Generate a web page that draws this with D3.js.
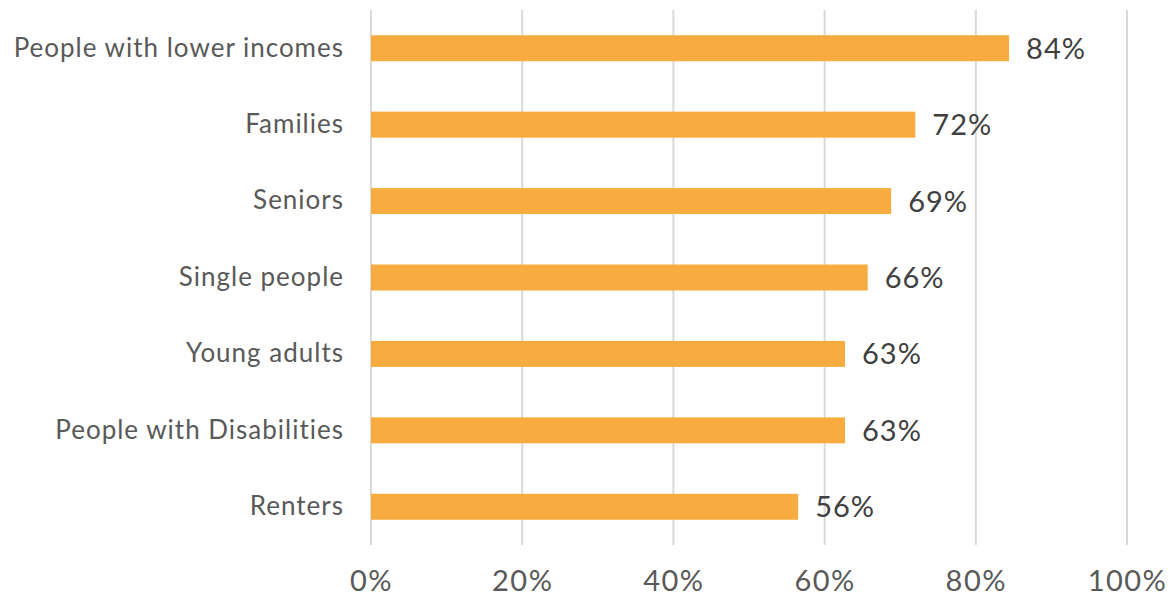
<!DOCTYPE html>
<html>
<head>
<meta charset="utf-8">
<script src="https://cdn.jsdelivr.net/npm/d3@7"></script>
<style>
  body { margin: 0; background: #fff; }
  text { font-family: Lato, "Open Sans", sans-serif; }
</style>
</head>
<body>
<svg id="chart"></svg>
<script>
// data
var categories = ["People with lower incomes", "Families", "Seniors", "Single people",
                  "Young adults", "People with Disabilities", "Renters"];
var values = [0.844, 0.72, 0.688, 0.657, 0.627, 0.627, 0.565];
var ticks = [0, 0.2, 0.4, 0.6, 0.8, 1.0];

var svg = d3.select("#chart"),
    W = 1175, H = 597,
    margin = { top: 10, right: 48, bottom: 52, left: 371 },
    width = W - margin.left - margin.right,
    height = H - margin.top - margin.bottom;

svg.attr("width", W).attr("height", H);

var g = svg.append("g").attr("transform", "translate(" + margin.left + "," + margin.top + ")");

var x = d3.scaleLinear().domain([0, 1]).range([0, width]),
    y = d3.scaleBand().domain(categories).range([0, height]).paddingInner(0.66).paddingOuter(0.33);

// gridlines
g.append("g").selectAll("line").data(ticks).enter().append("line")
    .attr("x1", function (d) { return x(d); })
    .attr("x2", function (d) { return x(d); })
    .attr("y1", 0).attr("y2", height)
    .attr("stroke", "#d9d9d9")
    .attr("stroke-width", 2);

// bars
g.append("g").selectAll("rect").data(values).enter().append("rect")
    .attr("x", x(0))
    .attr("y", function (d, i) { return y(categories[i]); })
    .attr("width", function (d) { return x(d) - x(0); })
    .attr("height", y.bandwidth())
    .attr("fill", "#f8ac40");

// value labels
var fmt = d3.format(".0%");
g.append("g").selectAll("text").data(values).enter().append("text")
    .attr("x", function (d) { return x(d) + 17; })
    .attr("y", function (d, i) { return y(categories[i]) + y.bandwidth() / 2; })
    .attr("dy", "0.36em")
    .attr("fill", "#404040")
    .style("font-size", "29px")
    .style("letter-spacing", "1px")
    .text(function (d) { return fmt(d); });

// category axis
var yAxis = g.append("g").call(d3.axisLeft(y).tickSize(0).tickPadding(27));
yAxis.select(".domain").remove();
yAxis.selectAll("text")
    .attr("fill", "#595959")
    .style("font-size", "26px")
    .style("letter-spacing", "1px");

// x axis
var xAxis = g.append("g")
    .attr("transform", "translate(0," + height + ")")
    .call(d3.axisBottom(x).tickValues(ticks).tickFormat(d3.format(".0%")).tickSize(0).tickPadding(25));
xAxis.select(".domain").remove();
xAxis.selectAll("text")
    .attr("fill", "#595959")
    .style("font-size", "29px")
    .style("letter-spacing", "1.5px");
</script>
</body>
</html>
